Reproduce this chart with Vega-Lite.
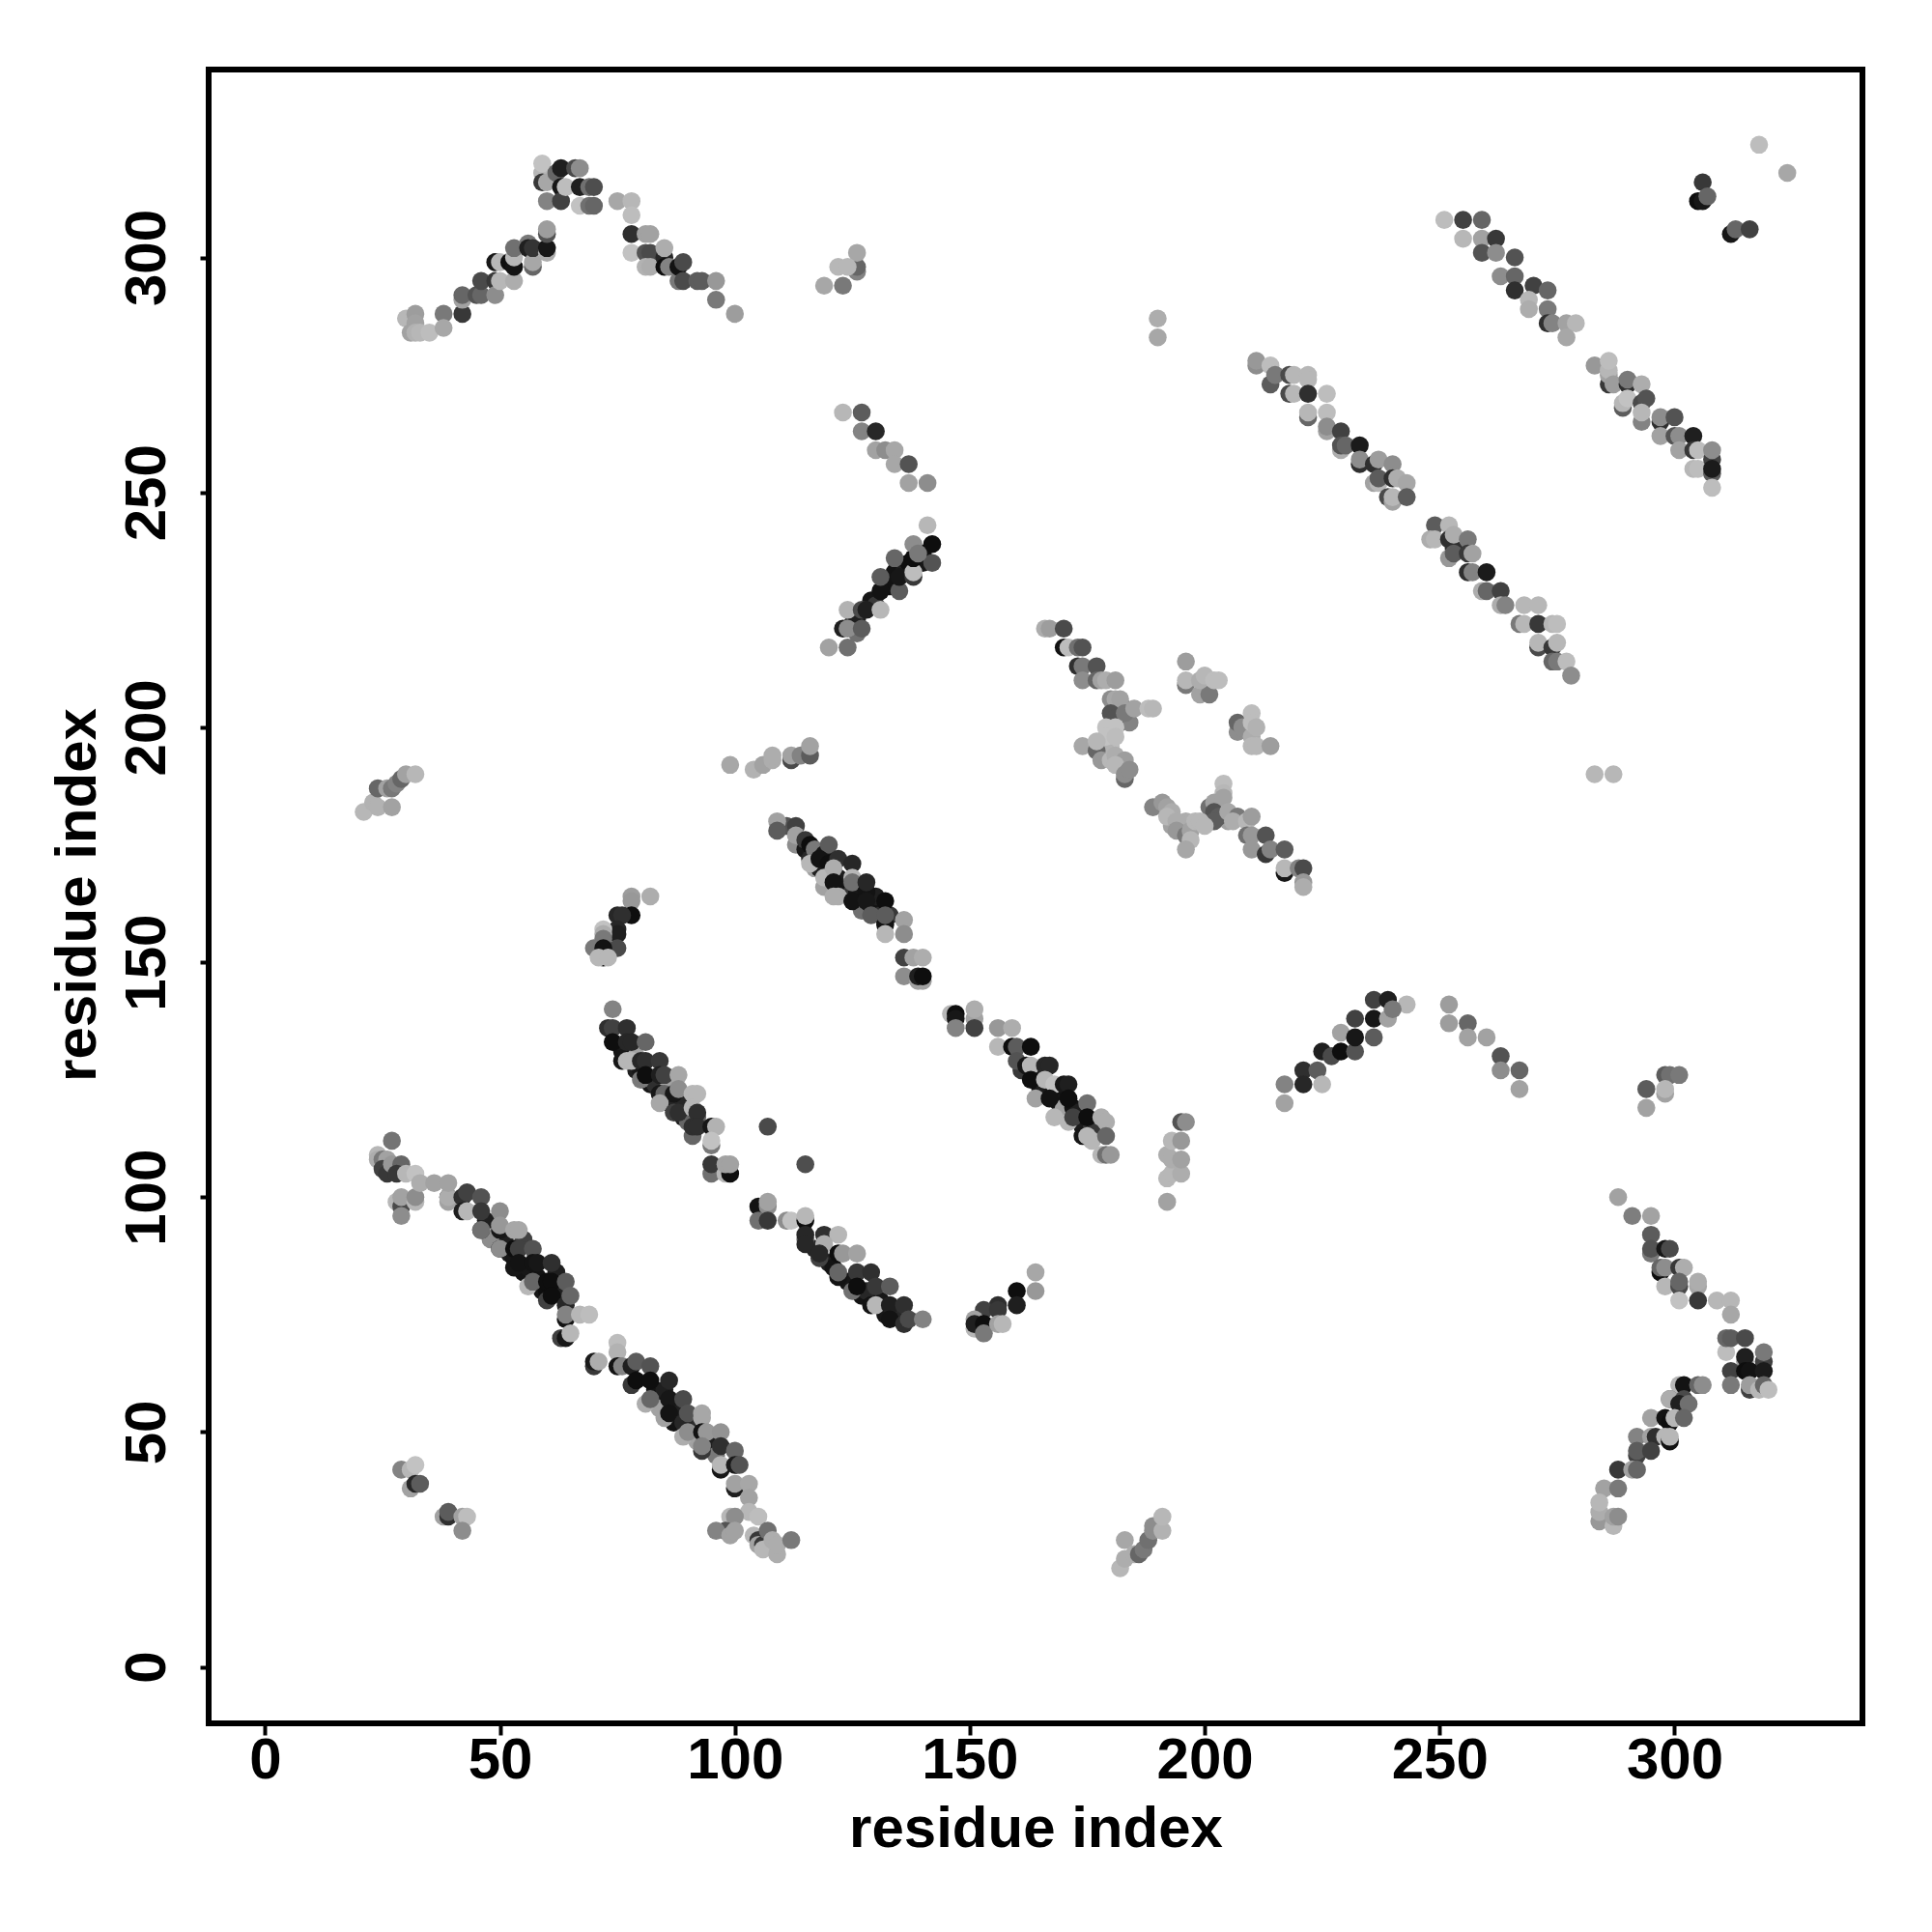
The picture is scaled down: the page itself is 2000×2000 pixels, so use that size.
{"$schema":"https://vega.github.io/schema/vega-lite/v6.json","autosize":"none","width":1712,"height":1712,"padding":{"left":216,"top":72,"right":72,"bottom":216},"background":"white","view":{"stroke":"black","strokeWidth":6,"fill":"white"},"config":{"font":"Liberation Sans"},
"data":{"values":[
{"i":111,"j":179,"g":90},{"i":113,"j":175,"g":150},{"i":115,"j":174,"g":20},{"i":116,"j":172,"g":40},{"i":117,"j":170,"g":170},{"i":118,"j":170,"g":30},{"i":119,"j":166,"g":170},{"i":120,"j":168,"g":20},{"i":122,"j":168,"g":25},{"i":123,"j":166,"g":25},{"i":124,"j":165,"g":15},{"i":125,"j":165,"g":60},{"i":126,"j":165,"g":20},{"i":127,"j":161,"g":120},{"i":129,"j":162,"g":30},{"i":130,"j":161,"g":15},{"i":130,"j":164,"g":30},{"i":131,"j":160,"g":50},{"i":133,"j":160,"g":60},
{"i":165,"j":123,"g":15},{"i":166,"j":123,"g":30},{"i":167,"j":124,"g":25},{"i":168,"j":122,"g":15},{"i":169,"j":120,"g":20},{"i":170,"j":119,"g":170},{"i":172,"j":119,"g":15},{"i":173,"j":118,"g":30},{"i":174,"j":115,"g":25},{"i":176,"j":115,"g":60},{"i":176,"j":112,"g":190},{"i":165,"j":126,"g":30},{"i":161,"j":127,"g":60},
{"i":76,"j":131,"g":20},{"i":79,"j":127,"g":30},{"i":79,"j":130,"g":170},{"i":80,"j":127,"g":20},{"i":82,"j":124,"g":20},{"i":83,"j":124,"g":50},{"i":86,"j":120,"g":30},{"i":88,"j":120,"g":40},{"i":89,"j":117,"g":30},{"i":90,"j":116,"g":110},{"i":86,"j":124,"g":170},
{"i":51,"j":91,"g":30},{"i":52,"j":88,"g":30},{"i":53,"j":87,"g":20},{"i":55,"j":84,"g":15},{"i":56,"j":85,"g":20},{"i":58,"j":83,"g":15},{"i":59,"j":80,"g":20},{"i":60,"j":80,"g":10},{"i":62,"j":80,"g":30},{"i":62,"j":84,"g":30},{"i":55,"j":91,"g":70},{"i":47,"j":95,"g":30},{"i":48,"j":91,"g":150},
{"i":83,"j":59,"g":20},{"i":84,"j":58,"g":15},{"i":85,"j":59,"g":30},{"i":87,"j":56,"g":20},{"i":84,"j":55,"g":170},{"i":87,"j":52,"g":15},{"i":88,"j":54,"g":30},{"i":91,"j":51,"g":50},{"i":92,"j":48,"g":170},{"i":95,"j":47,"g":30},{"i":96,"j":45,"g":130},
{"i":117,"j":89,"g":40},{"i":120,"j":86,"g":30},{"i":121,"j":85,"g":15},{"i":124,"j":82,"g":20},{"i":127,"j":79,"g":15},{"i":128,"j":80,"g":40},{"i":131,"j":78,"g":20},{"i":132,"j":75,"g":20},{"i":134,"j":76,"g":40},
{"i":125,"j":222,"g":60},{"i":126,"j":223,"g":30},{"i":129,"j":227,"g":20},{"i":130,"j":226,"g":60},{"i":132,"j":231,"g":30},{"i":133,"j":230,"g":15},{"i":134,"j":233,"g":15},{"i":136,"j":233,"g":30},{"i":137,"j":235,"g":10},{"i":140,"j":237,"g":15},{"i":140,"j":235,"g":20},{"i":126,"j":220,"g":120},
{"i":253,"j":238,"g":50},{"i":180,"j":200,"g":190},{"i":180,"j":196,"g":195},{"i":179,"j":195,"g":185},{"i":183,"j":204,"g":120},{"i":182,"j":201,"g":100},{"i":184,"j":201,"g":140},{"i":201,"j":183,"g":120},{"i":203,"j":183,"g":130},{"i":204,"j":181,"g":90},{"i":205,"j":180,"g":170},{"i":193,"j":179,"g":170},{"i":195,"j":179,"g":190},{"i":196,"j":180,"g":180},
{"i":30,"j":287,"g":190},{"i":32,"j":288,"g":165},{"i":32,"j":286,"g":170},{"i":31,"j":284,"g":170},{"i":32,"j":284,"g":185},{"i":33,"j":284,"g":190},{"i":35,"j":284,"g":195},{"i":38,"j":288,"g":130},{"i":38,"j":285,"g":175},{"i":42,"j":288,"g":60},{"i":42,"j":291,"g":170},{"i":42,"j":292,"g":110},{"i":45,"j":292,"g":90},{"i":46,"j":292,"g":110},{"i":46,"j":295,"g":80},{"i":49,"j":295,"g":60},{"i":49,"j":292,"g":150},{"i":50,"j":295,"g":190},{"i":53,"j":295,"g":180},{"i":49,"j":299,"g":20},{"i":50,"j":299,"g":190},{"i":52,"j":299,"g":10},{"i":53,"j":298,"g":15},{"i":53,"j":300,"g":190},{"i":53,"j":302,"g":120},{"i":56,"j":303,"g":130},{"i":56,"j":302,"g":30},{"i":57,"j":298,"g":110},{"i":57,"j":299,"g":175},{"i":57,"j":302,"g":55},{"i":60,"j":301,"g":180},{"i":60,"j":302,"g":20},{"i":60,"j":305,"g":90},{"i":60,"j":306,"g":165},{"i":59,"j":318,"g":190},{"i":59,"j":320,"g":200},{"i":59,"j":316,"g":60},{"i":60,"j":316,"g":175},{"i":60,"j":312,"g":140},{"i":62,"j":318,"g":110},{"i":63,"j":319,"g":30},{"i":63,"j":315,"g":20},{"i":63,"j":312,"g":70},{"i":64,"j":315,"g":195},{"i":66,"j":319,"g":80},{"i":67,"j":319,"g":150},{"i":67,"j":315,"g":30},{"i":67,"j":311,"g":200},{"i":69,"j":315,"g":120},{"i":70,"j":315,"g":85},{"i":69,"j":311,"g":120},{"i":70,"j":311,"g":110},{"i":75,"j":312,"g":175},{"i":78,"j":312,"g":190},{"i":78,"j":309,"g":195},{"i":78,"j":305,"g":50},{"i":81,"j":305,"g":170},{"i":82,"j":305,"g":170},{"i":78,"j":301,"g":200},{"i":81,"j":301,"g":90},{"i":82,"j":301,"g":80},{"i":81,"j":298,"g":185},{"i":82,"j":298,"g":180},{"i":85,"j":300,"g":40},{"i":85,"j":302,"g":180},{"i":85,"j":298,"g":10},{"i":86,"j":298,"g":140},{"i":88,"j":295,"g":130},{"i":88,"j":298,"g":15},{"i":89,"j":299,"g":80},{"i":89,"j":295,"g":80},{"i":92,"j":295,"g":100},{"i":93,"j":295,"g":100},{"i":96,"j":295,"g":160},{"i":96,"j":291,"g":130},{"i":100,"j":288,"g":165},
{"i":119,"j":294,"g":175},{"i":123,"j":294,"g":130},{"i":122,"j":298,"g":190},{"i":126,"j":297,"g":140},{"i":126,"j":298,"g":110},{"i":126,"j":301,"g":175},{"i":124,"j":298,"g":190},
{"i":123,"j":267,"g":190},{"i":127,"j":267,"g":100},{"i":127,"j":263,"g":140},{"i":130,"j":263,"g":40},{"i":130,"j":259,"g":170},{"i":132,"j":259,"g":150},{"i":134,"j":259,"g":175},{"i":134,"j":256,"g":175},{"i":137,"j":256,"g":90},{"i":137,"j":252,"g":170},{"i":141,"j":252,"g":150},
{"i":120,"j":217,"g":170},{"i":124,"j":217,"g":120},{"i":123,"j":221,"g":30},{"i":124,"j":221,"g":150},{"i":124,"j":225,"g":185},{"i":127,"j":221,"g":100},{"i":127,"j":225,"g":80},{"i":128,"j":225,"g":30},{"i":131,"j":225,"g":190},{"i":131,"j":229,"g":15},{"i":135,"j":229,"g":100},{"i":135,"j":232,"g":20},{"i":131,"j":232,"g":100},{"i":138,"j":232,"g":60},{"i":138,"j":233,"g":195},{"i":134,"j":236,"g":110},{"i":138,"j":236,"g":10},{"i":142,"j":235,"g":90},{"i":138,"j":239,"g":150},{"i":142,"j":239,"g":10},{"i":141,"j":243,"g":190},{"i":139,"j":237,"g":130},
{"i":78,"j":164,"g":165},{"i":82,"j":164,"g":180},{"i":78,"j":163,"g":160},{"i":78,"j":160,"g":10},{"i":75,"j":160,"g":40},{"i":76,"j":160,"g":50},{"i":75,"j":157,"g":40},{"i":75,"j":156,"g":30},{"i":72,"j":157,"g":200},{"i":72,"j":156,"g":180},{"i":72,"j":155,"g":130},{"i":75,"j":153,"g":80},{"i":70,"j":153,"g":130},{"i":72,"j":153,"g":15},{"i":72,"j":151,"g":10},{"i":71,"j":151,"g":190},{"i":73,"j":151,"g":190},
{"i":74,"j":140,"g":140},{"i":73,"j":136,"g":50},{"i":74,"j":136,"g":70},{"i":77,"j":136,"g":50},{"i":74,"j":133,"g":10},{"i":77,"j":133,"g":40},{"i":78,"j":133,"g":40},{"i":81,"j":133,"g":110},{"i":76,"j":129,"g":20},{"i":77,"j":129,"g":190},{"i":78,"j":129,"g":190},{"i":80,"j":129,"g":40},{"i":81,"j":129,"g":50},{"i":84,"j":129,"g":60},{"i":80,"j":125,"g":130},{"i":81,"j":126,"g":10},{"i":84,"j":126,"g":30},{"i":85,"j":126,"g":70},{"i":88,"j":126,"g":175},{"i":84,"j":122,"g":20},{"i":85,"j":122,"g":110},{"i":87,"j":122,"g":20},{"i":88,"j":123,"g":150},{"i":91,"j":122,"g":190},{"i":92,"j":122,"g":190},{"i":84,"j":120,"g":175},{"i":87,"j":118,"g":70},{"i":88,"j":118,"g":50},{"i":91,"j":119,"g":190},{"i":92,"j":117,"g":110},{"i":92,"j":118,"g":50},{"i":91,"j":113,"g":110},{"i":91,"j":115,"g":50},{"i":92,"j":115,"g":50},{"i":95,"j":115,"g":20},{"i":96,"j":115,"g":185},{"i":95,"j":111,"g":130},{"i":95,"j":112,"g":200},{"i":95,"j":105,"g":120},{"i":95,"j":107,"g":60},{"i":98,"j":105,"g":190},{"i":99,"j":105,"g":10},{"i":98,"j":107,"g":170},{"i":99,"j":107,"g":170},{"i":107,"j":115,"g":80},{"i":115,"j":107,"g":85},
{"i":105,"j":98,"g":15},{"i":107,"j":98,"g":150},{"i":107,"j":99,"g":170},{"i":105,"j":95,"g":120},{"i":107,"j":95,"g":60},{"i":111,"j":95,"g":150},{"i":112,"j":95,"g":200},{"i":115,"j":95,"g":10},{"i":115,"j":96,"g":190},{"i":115,"j":91,"g":120},{"i":115,"j":92,"g":40},{"i":115,"j":90,"g":40},{"i":119,"j":92,"g":50},{"i":122,"j":92,"g":190},{"i":119,"j":90,"g":180},{"i":118,"j":87,"g":70},{"i":118,"j":88,"g":40},{"i":122,"j":88,"g":10},{"i":123,"j":88,"g":160},{"i":126,"j":88,"g":170},{"i":122,"j":83,"g":15},{"i":122,"j":84,"g":110},{"i":126,"j":84,"g":60},{"i":129,"j":84,"g":50},{"i":125,"j":80,"g":120},{"i":126,"j":81,"g":10},{"i":130,"j":81,"g":60},{"i":133,"j":81,"g":100},{"i":129,"j":77,"g":15},{"i":130,"j":77,"g":190},{"i":133,"j":77,"g":30},{"i":136,"j":77,"g":50},{"i":133,"j":74,"g":15},{"i":136,"j":73,"g":50},{"i":137,"j":74,"g":80},{"i":140,"j":74,"g":140},
{"i":146,"j":139,"g":190},{"i":147,"j":139,"g":10},{"i":147,"j":138,"g":20},{"i":151,"j":138,"g":170},{"i":151,"j":140,"g":180},{"i":147,"j":136,"g":140},{"i":151,"j":136,"g":70},{"i":156,"j":136,"g":160},{"i":159,"j":136,"g":180},{"i":156,"j":132,"g":190},{"i":159,"j":132,"g":10},{"i":160,"j":132,"g":100},{"i":160,"j":129,"g":90},{"i":163,"j":132,"g":10},{"i":162,"j":128,"g":20},{"i":163,"j":128,"g":190},{"i":166,"j":128,"g":40},{"i":167,"j":128,"g":40},{"i":163,"j":125,"g":10},{"i":166,"j":125,"g":190},{"i":168,"j":124,"g":200},{"i":170,"j":124,"g":20},{"i":171,"j":124,"g":30},{"i":164,"j":121,"g":170},{"i":167,"j":121,"g":15},{"i":171,"j":121,"g":10},{"i":175,"j":120,"g":120},{"i":168,"j":117,"g":190},{"i":171,"j":116,"g":190},{"i":172,"j":117,"g":70},{"i":175,"j":117,"g":10},{"i":178,"j":117,"g":180},{"i":179,"j":116,"g":180},{"i":174,"j":113,"g":20},{"i":175,"j":113,"g":190},{"i":179,"j":113,"g":110},{"i":178,"j":109,"g":190},{"i":179,"j":109,"g":120},{"i":180,"j":109,"g":160},
{"i":109,"j":180,"g":170},{"i":109,"j":178,"g":100},{"i":113,"j":179,"g":70},{"i":113,"j":177,"g":170},{"i":115,"j":176,"g":60},{"i":116,"j":175,"g":10},{"i":117,"j":174,"g":130},{"i":119,"j":173,"g":20},{"i":120,"j":175,"g":100},{"i":116,"j":171,"g":190},{"i":118,"j":172,"g":15},{"i":120,"j":171,"g":10},{"i":122,"j":172,"g":50},{"i":119,"j":168,"g":190},{"i":121,"j":170,"g":180},{"i":121,"j":167,"g":15},{"i":125,"j":171,"g":40},{"i":125,"j":168,"g":190},{"i":122,"j":164,"g":180},{"i":125,"j":163,"g":15},{"i":125,"j":167,"g":120},{"i":128,"j":165,"g":15},{"i":128,"j":167,"g":40},{"i":128,"j":163,"g":20},{"i":121,"j":164,"g":180},{"i":132,"j":163,"g":10},{"i":129,"j":160,"g":100},{"i":132,"j":158,"g":15},{"i":132,"j":160,"g":100},{"i":136,"j":159,"g":170},{"i":132,"j":156,"g":190},{"i":136,"j":156,"g":150},{"i":136,"j":151,"g":70},{"i":138,"j":151,"g":170},{"i":140,"j":151,"g":180},{"i":136,"j":147,"g":150},{"i":139,"j":146,"g":170},{"i":140,"j":146,"g":170},{"i":139,"j":147,"g":30},{"i":140,"j":147,"g":10},
{"i":27,"j":112,"g":125},{"i":24,"j":109,"g":190},{"i":24,"j":108,"g":180},{"i":25,"j":108,"g":130},{"i":26,"j":108,"g":170},{"i":25,"j":106,"g":70},{"i":26,"j":105,"g":60},{"i":27,"j":107,"g":160},{"i":29,"j":107,"g":110},{"i":28,"j":105,"g":60},{"i":30,"j":105,"g":190},{"i":32,"j":105,"g":200},{"i":28,"j":99,"g":190},{"i":29,"j":98,"g":80},{"i":29,"j":100,"g":170},{"i":32,"j":99,"g":190},{"i":32,"j":100,"g":150},{"i":29,"j":96,"g":150},{"i":33,"j":103,"g":180},{"i":36,"j":103,"g":170},{"i":39,"j":100,"g":20},{"i":39,"j":99,"g":170},{"i":39,"j":100,"g":180},{"i":39,"j":103,"g":170},{"i":42,"j":100,"g":50},{"i":43,"j":101,"g":70},{"i":46,"j":100,"g":90},{"i":42,"j":97,"g":30},{"i":43,"j":97,"g":190},{"i":46,"j":97,"g":60},{"i":50,"j":97,"g":150},{"i":46,"j":93,"g":60},{"i":46,"j":93,"g":120},{"i":50,"j":93,"g":20},{"i":50,"j":94,"g":160},{"i":53,"j":93,"g":175},{"i":54,"j":93,"g":175},{"i":50,"j":89,"g":20},{"i":50,"j":89,"g":150},{"i":53,"j":89,"g":10},{"i":54,"j":89,"g":70},{"i":57,"j":89,"g":90},{"i":53,"j":85,"g":20},{"i":54,"j":86,"g":15},{"i":57,"j":86,"g":15},{"i":58,"j":86,"g":20},{"i":61,"j":86,"g":50},{"i":56,"j":81,"g":190},{"i":57,"j":82,"g":110},{"i":60,"j":82,"g":10},{"i":61,"j":82,"g":10},{"i":64,"j":82,"g":100},{"i":60,"j":78,"g":70},{"i":61,"j":79,"g":10},{"i":64,"j":77,"g":40},{"i":65,"j":79,"g":110},{"i":64,"j":74,"g":15},{"i":64,"j":75,"g":140},{"i":67,"j":75,"g":190},{"i":69,"j":75,"g":195},{"i":63,"j":70,"g":70},{"i":64,"j":70,"g":20},{"i":65,"j":71,"g":190},{"i":70,"j":64,"g":60},{"i":70,"j":65,"g":25},{"i":71,"j":65,"g":180},{"i":75,"j":69,"g":195},{"i":75,"j":67,"g":185},{"i":75,"j":64,"g":15},{"i":76,"j":64,"g":140},{"i":78,"j":64,"g":30},{"i":79,"j":65,"g":100},{"i":82,"j":64,"g":90},{"i":78,"j":60,"g":60},{"i":79,"j":61,"g":10},{"i":82,"j":61,"g":10},{"i":86,"j":61,"g":40},{"i":81,"j":56,"g":180},{"i":82,"j":57,"g":110},{"i":86,"j":57,"g":20},{"i":89,"j":57,"g":80},{"i":85,"j":53,"g":170},{"i":86,"j":54,"g":15},{"i":89,"j":52,"g":40},{"i":90,"j":54,"g":90},{"i":93,"j":54,"g":175},{"i":93,"j":53,"g":175},{"i":89,"j":49,"g":180},{"i":90,"j":50,"g":150},{"i":93,"j":50,"g":15},{"i":94,"j":50,"g":160},{"i":97,"j":50,"g":155},{"i":93,"j":46,"g":60},{"i":93,"j":47,"g":140},{"i":97,"j":47,"g":50},{"i":100,"j":46,"g":110},{"i":97,"j":42,"g":20},{"i":97,"j":43,"g":190},{"i":100,"j":43,"g":25},{"i":101,"j":43,"g":90},{"i":100,"j":38,"g":30},{"i":100,"j":39,"g":170},{"i":103,"j":39,"g":175},{"i":103,"j":36,"g":170},{"i":103,"j":33,"g":190},{"i":105,"j":32,"g":195},{"i":99,"j":32,"g":190},{"i":100,"j":32,"g":150},{"i":98,"j":29,"g":90},{"i":96,"j":29,"g":140},{"i":99,"j":28,"g":170},{"i":100,"j":29,"g":170},
{"i":104,"j":28,"g":190},{"i":105,"j":27,"g":60},{"i":105,"j":26,"g":170},{"i":106,"j":26,"g":60},{"i":106,"j":25,"g":190},{"i":107,"j":29,"g":120},{"i":108,"j":27,"g":180},{"i":109,"j":24,"g":180},{"i":109,"j":26,"g":180},{"i":112,"j":27,"g":130},
{"i":29,"j":42,"g":140},{"i":31,"j":42,"g":190},{"i":32,"j":43,"g":200},{"i":31,"j":38,"g":170},{"i":32,"j":39,"g":40},{"i":33,"j":39,"g":100},{"i":38,"j":32,"g":170},{"i":39,"j":32,"g":50},{"i":39,"j":33,"g":100},{"i":42,"j":32,"g":170},{"i":43,"j":32,"g":195},{"i":42,"j":29,"g":150},
{"i":164,"j":84,"g":175},{"i":164,"j":80,"g":160},{"i":160,"j":80,"g":10},{"i":160,"j":77,"g":30},{"i":156,"j":77,"g":50},{"i":153,"j":76,"g":70},{"i":156,"j":76,"g":60},{"i":151,"j":72,"g":190},{"i":151,"j":74,"g":170},{"i":151,"j":73,"g":30},{"i":153,"j":73,"g":10},{"i":153,"j":71,"g":130},{"i":156,"j":73,"g":170},{"i":157,"j":73,"g":190},
{"i":192,"j":99,"g":170},{"i":192,"j":104,"g":190},{"i":193,"j":105,"g":190},{"i":195,"j":105,"g":180},{"i":192,"j":109,"g":180},{"i":193,"j":108,"g":180},{"i":195,"j":108,"g":170},{"i":193,"j":112,"g":190},{"i":195,"j":112,"g":160},{"i":195,"j":116,"g":90},{"i":196,"j":116,"g":150},
{"i":21,"j":182,"g":190},{"i":23,"j":184,"g":185},{"i":24,"j":183,"g":185},{"i":27,"j":183,"g":170},{"i":24,"j":187,"g":110},{"i":26,"j":187,"g":170},{"i":27,"j":187,"g":130},{"i":28,"j":188,"g":140},{"i":29,"j":189,"g":110},{"i":30,"j":190,"g":170},{"i":32,"j":190,"g":190},
{"i":99,"j":192,"g":175},{"i":104,"j":191,"g":185},{"i":106,"j":192,"g":170},{"i":108,"j":193,"g":180},{"i":108,"j":194,"g":180},{"i":112,"j":193,"g":80},{"i":112,"j":194,"g":170},{"i":114,"j":194,"g":140},{"i":116,"j":194,"g":100},{"i":116,"j":196,"g":170},
{"i":182,"j":21,"g":190},{"i":183,"j":23,"g":180},{"i":183,"j":27,"g":175},{"i":185,"j":24,"g":180},{"i":186,"j":24,"g":110},{"i":187,"j":25,"g":130},{"i":188,"j":27,"g":120},{"i":189,"j":29,"g":150},{"i":189,"j":30,"g":150},{"i":191,"j":29,"g":185},{"i":191,"j":32,"g":190},
{"i":166,"j":221,"g":180},{"i":167,"j":221,"g":165},{"i":170,"j":221,"g":80},{"i":170,"j":217,"g":15},{"i":171,"j":217,"g":195},{"i":173,"j":217,"g":120},{"i":174,"j":217,"g":90},{"i":173,"j":213,"g":50},{"i":174,"j":213,"g":130},{"i":174,"j":210,"g":150},{"i":177,"j":213,"g":90},{"i":177,"j":210,"g":110},{"i":178,"j":210,"g":170},{"i":179,"j":210,"g":180},{"i":181,"j":210,"g":165},{"i":180,"j":206,"g":150},{"i":181,"j":206,"g":175},{"i":182,"j":206,"g":170},{"i":180,"j":203,"g":90},{"i":181,"j":202,"g":90},{"i":183,"j":203,"g":130},{"i":185,"j":204,"g":170},{"i":188,"j":204,"g":195},{"i":189,"j":204,"g":190},{"i":179,"j":200,"g":200},{"i":181,"j":200,"g":200},{"i":179,"j":198,"g":200},{"i":181,"j":198,"g":195},{"i":174,"j":196,"g":175},{"i":177,"j":195,"g":110},{"i":177,"j":197,"g":190},{"i":178,"j":193,"g":160},{"i":180,"j":193,"g":190},{"i":181,"j":194,"g":180},{"i":183,"j":193,"g":165},{"i":181,"j":192,"g":190},{"i":183,"j":189,"g":110},{"i":183,"j":190,"g":150},{"i":184,"j":191,"g":150},
{"i":196,"j":214,"g":165},{"i":196,"j":209,"g":130},{"i":196,"j":210,"g":190},{"i":199,"j":207,"g":170},{"i":201,"j":207,"g":130},{"i":199,"j":210,"g":180},{"i":200,"j":211,"g":190},{"i":202,"j":210,"g":195},{"i":203,"j":210,"g":195},{"i":207,"j":199,"g":150},{"i":207,"j":201,"g":110},{"i":208,"j":200,"g":150},{"i":210,"j":198,"g":180},{"i":210,"j":203,"g":195},{"i":210,"j":201,"g":195},{"i":211,"j":200,"g":185},{"i":210,"j":196,"g":190},{"i":211,"j":196,"g":190},{"i":214,"j":196,"g":165},
{"i":204,"j":188,"g":195},{"i":204,"j":186,"g":190},{"i":202,"j":184,"g":170},{"i":204,"j":185,"g":170},{"i":202,"j":182,"g":90},{"i":203,"j":181,"g":100},{"i":202,"j":180,"g":100},{"i":205,"j":182,"g":175},{"i":207,"j":181,"g":130},{"i":206,"j":180,"g":180},{"i":209,"j":180,"g":190},{"i":210,"j":181,"g":165},{"i":189,"j":183,"g":140},{"i":191,"j":184,"g":160},{"i":192,"j":183,"g":170},{"i":193,"j":182,"g":180},{"i":192,"j":181,"g":190},{"i":194,"j":180,"g":180},{"i":194,"j":178,"g":160},{"i":196,"j":177,"g":130},{"i":197,"j":178,"g":170},{"i":197,"j":176,"g":190},{"i":196,"j":174,"g":175},{"i":198,"j":180,"g":190},{"i":199,"j":180,"g":190},{"i":200,"j":179,"g":190},
{"i":209,"j":177,"g":120},{"i":210,"j":177,"g":160},{"i":210,"j":174,"g":160},{"i":213,"j":177,"g":90},{"i":213,"j":173,"g":60},{"i":214,"j":174,"g":140},{"i":217,"j":174,"g":100},{"i":217,"j":169,"g":20},{"i":217,"j":170,"g":190},{"i":220,"j":170,"g":140},{"i":221,"j":170,"g":80},{"i":221,"j":167,"g":160},{"i":221,"j":166,"g":180},
{"i":211,"j":277,"g":150},{"i":211,"j":278,"g":160},{"i":214,"j":277,"g":195},{"i":214,"j":273,"g":100},{"i":215,"j":275,"g":130},{"i":218,"j":275,"g":80},{"i":219,"j":275,"g":190},{"i":222,"j":275,"g":190},{"i":222,"j":274,"g":190},{"i":218,"j":271,"g":80},{"i":219,"j":271,"g":190},{"i":222,"j":271,"g":50},{"i":226,"j":271,"g":195},{"i":222,"j":266,"g":110},{"i":222,"j":267,"g":190},{"i":226,"j":267,"g":195},{"i":226,"j":263,"g":170},{"i":226,"j":264,"g":150},{"i":229,"j":263,"g":70},{"i":229,"j":259,"g":180},{"i":229,"j":260,"g":90},{"i":230,"j":260,"g":110},{"i":233,"j":260,"g":25},{"i":233,"j":256,"g":50},{"i":233,"j":257,"g":150},{"i":236,"j":256,"g":50},{"i":237,"j":257,"g":165},{"i":240,"j":256,"g":150},{"i":236,"j":252,"g":170},{"i":237,"j":252,"g":190},{"i":237,"j":253,"g":100},{"i":239,"j":249,"g":80},{"i":240,"j":253,"g":50},{"i":241,"j":253,"g":180},{"i":243,"j":252,"g":175},{"i":240,"j":248,"g":170},{"i":240,"j":249,"g":190},{"i":243,"j":249,"g":100},
{"i":249,"j":243,"g":100},{"i":252,"j":243,"g":190},{"i":248,"j":240,"g":180},{"i":249,"j":240,"g":190},{"i":252,"j":240,"g":50},{"i":253,"j":241,"g":180},{"i":256,"j":240,"g":130},{"i":252,"j":236,"g":160},{"i":253,"j":237,"g":100},{"i":256,"j":237,"g":60},{"i":257,"j":237,"g":170},{"i":256,"j":233,"g":50},{"i":257,"j":233,"g":140},{"i":260,"j":233,"g":25},{"i":259,"j":229,"g":180},{"i":260,"j":229,"g":110},{"i":263,"j":229,"g":70},{"i":263,"j":226,"g":180},{"i":264,"j":226,"g":140},{"i":268,"j":226,"g":190},{"i":271,"j":226,"g":190},{"i":267,"j":222,"g":130},{"i":268,"j":222,"g":190},{"i":271,"j":222,"g":60},{"i":274,"j":222,"g":190},{"i":275,"j":222,"g":195},{"i":271,"j":217,"g":80},{"i":271,"j":218,"g":190},{"i":274,"j":217,"g":60},{"i":275,"j":218,"g":190},{"i":274,"j":214,"g":110},{"i":275,"j":214,"g":130},{"i":277,"j":214,"g":195},{"i":278,"j":211,"g":150},
{"i":283,"j":277,"g":160},{"i":286,"j":273,"g":60},{"i":286,"j":275,"g":170},{"i":286,"j":276,"g":190},{"i":286,"j":278,"g":195},{"i":287,"j":273,"g":165},{"i":290,"j":273,"g":50},{"i":290,"j":274,"g":130},{"i":293,"j":273,"g":180},{"i":289,"j":268,"g":100},{"i":289,"j":269,"g":190},{"i":290,"j":270,"g":200},{"i":293,"j":269,"g":80},{"i":294,"j":270,"g":90},{"i":293,"j":265,"g":140},{"i":293,"j":267,"g":190},{"i":297,"j":265,"g":50},{"i":297,"j":266,"g":150},{"i":297,"j":262,"g":170},{"i":300,"j":266,"g":90},{"i":300,"j":262,"g":90},{"i":301,"j":262,"g":150},{"i":301,"j":259,"g":170},{"i":304,"j":262,"g":30},{"i":304,"j":259,"g":60},{"i":305,"j":259,"g":195},{"i":304,"j":255,"g":190},{"i":305,"j":255,"g":195},{"i":308,"j":257,"g":70},{"i":308,"j":259,"g":150},{"i":308,"j":254,"g":100},{"i":308,"j":255,"g":25},{"i":308,"j":251,"g":195},
{"i":251,"j":308,"g":195},{"i":255,"j":308,"g":70},{"i":259,"j":308,"g":110},{"i":255,"j":304,"g":190},{"i":259,"j":304,"g":170},{"i":262,"j":304,"g":60},{"i":259,"j":301,"g":90},{"i":262,"j":301,"g":150},{"i":266,"j":300,"g":90},{"i":263,"j":296,"g":150},{"i":266,"j":296,"g":110},{"i":266,"j":293,"g":50},{"i":270,"j":294,"g":70},{"i":269,"j":291,"g":190},{"i":273,"j":293,"g":110},{"i":269,"j":289,"g":180},{"i":273,"j":289,"g":130},{"i":273,"j":286,"g":50},{"i":274,"j":286,"g":140},{"i":277,"j":286,"g":170},{"i":279,"j":286,"g":190},{"i":277,"j":283,"g":175},
{"i":318,"j":324,"g":195},{"i":324,"j":318,"g":175},{"i":306,"j":316,"g":60},{"i":305,"j":312,"g":10},{"i":306,"j":312,"g":20},{"i":307,"j":313,"g":110},{"i":312,"j":305,"g":20},{"i":313,"j":306,"g":110},{"i":316,"j":306,"g":70},{"i":190,"j":287,"g":180},{"i":190,"j":283,"g":175},{"i":283,"j":190,"g":190},{"i":287,"j":190,"g":190},
{"i":243,"j":141,"g":190},{"i":252,"j":141,"g":165},{"i":252,"j":137,"g":165},{"i":256,"j":137,"g":110},{"i":256,"j":134,"g":170},{"i":260,"j":134,"g":170},{"i":263,"j":130,"g":90},{"i":263,"j":127,"g":150},{"i":267,"j":127,"g":110},{"i":267,"j":123,"g":170},
{"i":217,"j":124,"g":140},{"i":217,"j":120,"g":170},{"i":221,"j":127,"g":50},{"i":221,"j":124,"g":40},{"i":224,"j":127,"g":100},{"i":225,"j":124,"g":190},{"i":225,"j":131,"g":30},{"i":227,"j":130,"g":80},{"i":229,"j":131,"g":10},{"i":229,"j":135,"g":170},{"i":232,"j":131,"g":90},{"i":232,"j":134,"g":20},{"i":236,"j":134,"g":100},{"i":232,"j":138,"g":70},{"i":236,"j":138,"g":20},{"i":236,"j":142,"g":70},{"i":239,"j":138,"g":170},{"i":239,"j":142,"g":30},{"i":240,"j":140,"g":130},
{"i":288,"j":100,"g":170},{"i":291,"j":96,"g":135},{"i":295,"j":96,"g":170},{"i":295,"j":92,"g":100},{"i":295,"j":88,"g":130},{"i":295,"j":89,"g":90},{"i":298,"j":89,"g":20},{"i":299,"j":89,"g":80},{"i":297,"j":84,"g":10},{"i":297,"j":85,"g":110},{"i":298,"j":85,"g":150},{"i":301,"j":85,"g":60},{"i":302,"j":85,"g":180},{"i":298,"j":81,"g":190},{"i":301,"j":81,"g":80},{"i":301,"j":82,"g":110},{"i":305,"j":81,"g":175},{"i":305,"j":82,"g":180},{"i":301,"j":78,"g":200},{"i":305,"j":78,"g":60},{"i":309,"j":78,"g":190},{"i":312,"j":78,"g":190},{"i":312,"j":75,"g":175},
{"i":311,"j":67,"g":195},{"i":311,"j":70,"g":110},{"i":312,"j":70,"g":100},{"i":315,"j":65,"g":170},{"i":315,"j":66,"g":30},{"i":315,"j":70,"g":80},{"i":319,"j":65,"g":70},{"i":319,"j":67,"g":130},{"i":312,"j":63,"g":70},{"i":315,"j":63,"g":10},{"i":316,"j":63,"g":15},{"i":319,"j":63,"g":25},{"i":312,"j":60,"g":130},{"i":316,"j":59,"g":70},{"i":316,"j":60,"g":165},{"i":318,"j":59,"g":190},{"i":319,"j":60,"g":110},{"i":320,"j":59,"g":195},
{"i":301,"j":60,"g":190},{"i":302,"j":60,"g":15},{"i":305,"j":60,"g":110},{"i":306,"j":60,"g":150},{"i":299,"j":57,"g":100},{"i":299,"j":57,"g":180},{"i":302,"j":57,"g":80},{"i":301,"j":56,"g":30},{"i":303,"j":56,"g":120},{"i":295,"j":53,"g":170},{"i":298,"j":53,"g":15},{"i":299,"j":52,"g":10},{"i":300,"j":53,"g":190},{"i":302,"j":53,"g":110},{"i":292,"j":49,"g":140},{"i":295,"j":49,"g":170},{"i":296,"j":49,"g":50},{"i":298,"j":49,"g":190},{"i":299,"j":48,"g":15},{"i":299,"j":49,"g":190},{"i":292,"j":45,"g":70},{"i":292,"j":46,"g":100},{"i":295,"j":46,"g":70},{"i":288,"j":42,"g":60},{"i":291,"j":42,"g":170},{"i":292,"j":42,"g":110},{"i":285,"j":38,"g":170},{"i":288,"j":38,"g":130},{"i":284,"j":31,"g":160},{"i":284,"j":33,"g":180},{"i":284,"j":35,"g":190},{"i":287,"j":30,"g":190},{"i":287,"j":32,"g":170},{"i":288,"j":32,"g":150},
{"i":294,"j":119,"g":170},{"i":294,"j":123,"g":100},{"i":298,"j":126,"g":100},{"i":299,"j":126,"g":120},{"i":298,"j":122,"g":170},{"i":298,"j":123,"g":190},{"i":301,"j":126,"g":130}
]},
"mark":{"type":"circle","opacity":1,"size":345,"stroke":null},
"encoding":{
"x":{"field":"i","type":"quantitative","scale":{"domain":[-12,340],"nice":false,"zero":false},"axis":{"values":[0,50,100,150,200,250,300],"title":"residue index","grid":false,"domain":false,"tickColor":"black","tickWidth":4,"tickSize":12,"labelFont":"Liberation Sans","labelFontWeight":"bold","labelFontSize":60,"labelColor":"black","labelBaseline":"alphabetic","labelPadding":44,"titleFont":"Liberation Sans","titleFontWeight":"bold","titleFontSize":60,"titleColor":"black","titleBaseline":"alphabetic","titleX":856,"titleY":127}},
"y":{"field":"j","type":"quantitative","scale":{"domain":[-12,340],"nice":false,"zero":false},"axis":{"values":[0,50,100,150,200,250,300],"title":"residue index","grid":false,"domain":false,"tickColor":"black","tickWidth":4,"tickSize":9,"labelFont":"Liberation Sans","labelFontWeight":"bold","labelFontSize":60,"labelColor":"black","labelAngle":-90,"labelAlign":"center","labelBaseline":"alphabetic","labelPadding":37,"titleFont":"Liberation Sans","titleFontWeight":"bold","titleFontSize":60,"titleColor":"black","titleBaseline":"alphabetic","titleAngle":-90,"titleX":-118,"titleY":854}},
"color":{"field":"g","type":"quantitative","scale":{"domain":[0,255],"range":["#000000","#ffffff"]},"legend":null}
}}
